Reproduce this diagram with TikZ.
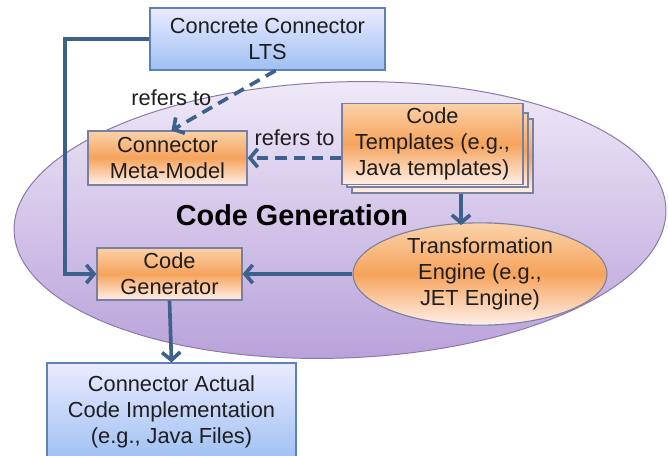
\documentclass[tikz,border=0pt]{standalone}
\usepackage{fontspec}
\setmainfont{Liberation Sans}
\usetikzlibrary{shapes, arrows.meta, positioning}

\definecolor{linkblue}{RGB}{62,96,140}
\definecolor{textdark}{RGB}{30,30,30}
\definecolor{boxblue}{RGB}{92,130,185}
\definecolor{boxorange}{RGB}{120,130,160}
\definecolor{cgborder}{RGB}{140,120,170}
\definecolor{orangetop}{RGB}{251,210,170}
\definecolor{orangemid}{RGB}{246,163,92}
\definecolor{orangebot}{RGB}{255,240,234}

\tikzset{
    bluebox/.style ={rectangle, draw=boxblue, line width=0.8pt, top color=blue!8!white, bottom color={rgb,255:red,158;green,192;blue,242}, text=textdark, align=center},
    orangebox/.style ={rectangle, draw=boxorange, line width=0.8pt, top color=orangetop, bottom color=orangebot, middle color=orangemid, text=textdark, align=center},
    flow/.style ={->, draw=linkblue, line width=2.6pt},
    refer/.style ={->, draw=linkblue, line width=2.6pt, dash pattern=on 8pt off 5pt}
}

\begin{document}
\begin{tikzpicture}[x=0.025cm, y=-0.025cm, >={Straight Barb[length=5.5pt, width=13pt]}, font=\fontsize{15.5}{18.5}\selectfont]
    \useasboundingbox (0,0) rectangle (668,455);

    % the code generation area
    \node [ellipse, draw=cgborder, line width=0.7pt, top color={rgb,255:red,240;green,234;blue,248}, bottom color={rgb,255:red,184;green,160;blue,218}, minimum width=16.3cm, minimum height=6.9cm, rotate=2] (cg) at (340,220) {};
    \node [text=black, font=\fontsize{20.5}{24}\selectfont\bfseries] (cglabel) at (292,215) {Code Generation};

    \node [bluebox, minimum width=5.875cm, minimum height=1.55cm] (lts) at (267.5,39) {Concrete Connector\\LTS};
    \node [orangebox, minimum width=3.975cm, minimum height=1.35cm] (meta) at (167.5,158) {Connector\\Meta-Model};

    % stacked templates
    \node [orangebox, minimum width=4.525cm, minimum height=1.85cm] (tmplC) at (442.5,156) {};
    \node [orangebox, minimum width=4.525cm, minimum height=1.85cm] (tmplB) at (437.5,150) {};
    \node [orangebox, minimum width=4.525cm, minimum height=1.85cm] (tmpl) at (432.5,144) {Code\\Templates (e.g.,\\Java templates)};

    \node [ellipse, draw=boxorange, line width=0.8pt, top color=orangetop, bottom color=orangebot, middle color=orangemid, text=textdark, align=center, minimum width=6.35cm, minimum height=2.3cm, inner sep=0pt] (engine) at (480,274) {Transformation\\Engine (e.g.,\\JET Engine)};
    \node [orangebox, minimum width=3.625cm, minimum height=1.3cm] (gen) at (169.5,274) {Code\\Generator};
    \node [bluebox, minimum width=6.225cm, minimum height=2.45cm] (impl) at (171.5,412) {Connector Actual\\Code Implementation\\(e.g., Java Files)};

    \coordinate (corner) at (65,39);

    \draw [flow] (lts.west) -- (corner) |- (gen.west);
    \draw [refer] ([xshift=0.2cm]lts.south) -- node [left, text=textdark, xshift=-4pt, yshift=2pt] {refers to} ([xshift=0.1cm]meta.north);
    \draw [refer] (tmpl.west |- meta.east) -- node [above, text=textdark, yshift=4pt] {refers to} (meta.east);
    \draw [flow] ([xshift=-0.475cm]engine.north |- tmplC.south) -- ([xshift=-0.475cm, yshift=-2pt]engine.north);
    \draw [flow] (engine.west) -- (gen.east);
    \draw [flow] (gen.south) -- (impl.north);
\end{tikzpicture}
\end{document}
